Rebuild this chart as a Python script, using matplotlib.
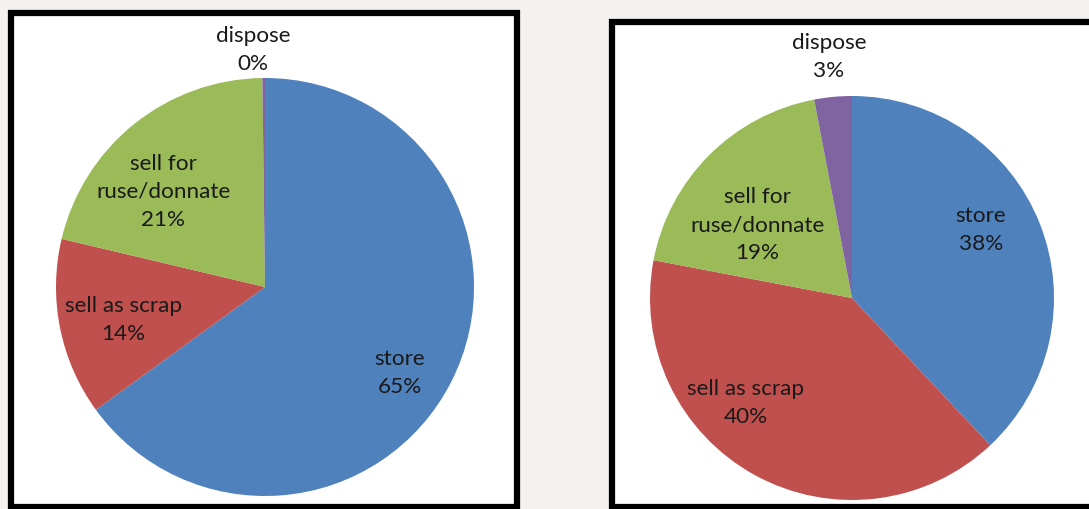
import matplotlib.pyplot as plt
from matplotlib.patches import Rectangle

# data
labels = ["store", "sell as scrap", "sell for\nruse/donnate", "dispose"]
before_vals = [65.0, 13.7, 21.1, 0.2]
before_pct = ["65%", "14%", "21%", "0%"]
after_vals = [38.0, 40.0, 19.0, 3.0]
after_pct = ["38%", "40%", "19%", "3%"]

colors = ["#4F81BD", "#C0504D", "#9BBB59", "#8064A2"]

# label spots in radius units (Excel "best fit")
before_pos = [(0.646, -0.411), (-0.679, -0.158), (-0.488, 0.455), (-0.057, 1.134)]
after_pos = [(0.639, 0.337), (-0.525, -0.520), (-0.470, 0.361), (-0.114, 1.193)]

W, H = 1089, 509
fig = plt.figure(figsize=(W / 100, H / 100), dpi=100)
fig.patch.set_facecolor("#f4f2ef")

# white framed boxes behind the pies
bg = fig.add_axes([0, 0, 1, 1])
bg.set_xlim(0, W)
bg.set_ylim(H, 0)
bg.axis("off")
bg.add_patch(Rectangle((10.5, 13), 506, 494, facecolor="white", edgecolor="black", lw=4.5))
bg.add_patch(Rectangle((612, 22), 500, 485, facecolor="white", edgecolor="black", lw=4.5))


def draw_pie(cx, cy, r, vals, pct, pos):
    ax = fig.add_axes([(cx - r) / W, (H - cy - r) / H, 2 * r / W, 2 * r / H])
    ax.pie(vals, colors=colors, startangle=90, counterclock=False, radius=1,
           wedgeprops=dict(linewidth=0))
    ax.set_xlim(-1, 1)
    ax.set_ylim(-1, 1)
    ax.set_aspect("equal")
    ax.axis("off")
    for lab, p, (x, y) in zip(labels, pct, pos):
        ax.text(x, y, lab + "\n" + p, ha="center", va="center", fontsize=16.2,
                family="Lato", color="#1a1a1a", linespacing=1.5, clip_on=False)


draw_pie(265, 287, 209, before_vals, before_pct, before_pos)
draw_pie(852, 298, 202, after_vals, after_pct, after_pos)

plt.savefig("out.png", dpi=100, facecolor=fig.get_facecolor())
